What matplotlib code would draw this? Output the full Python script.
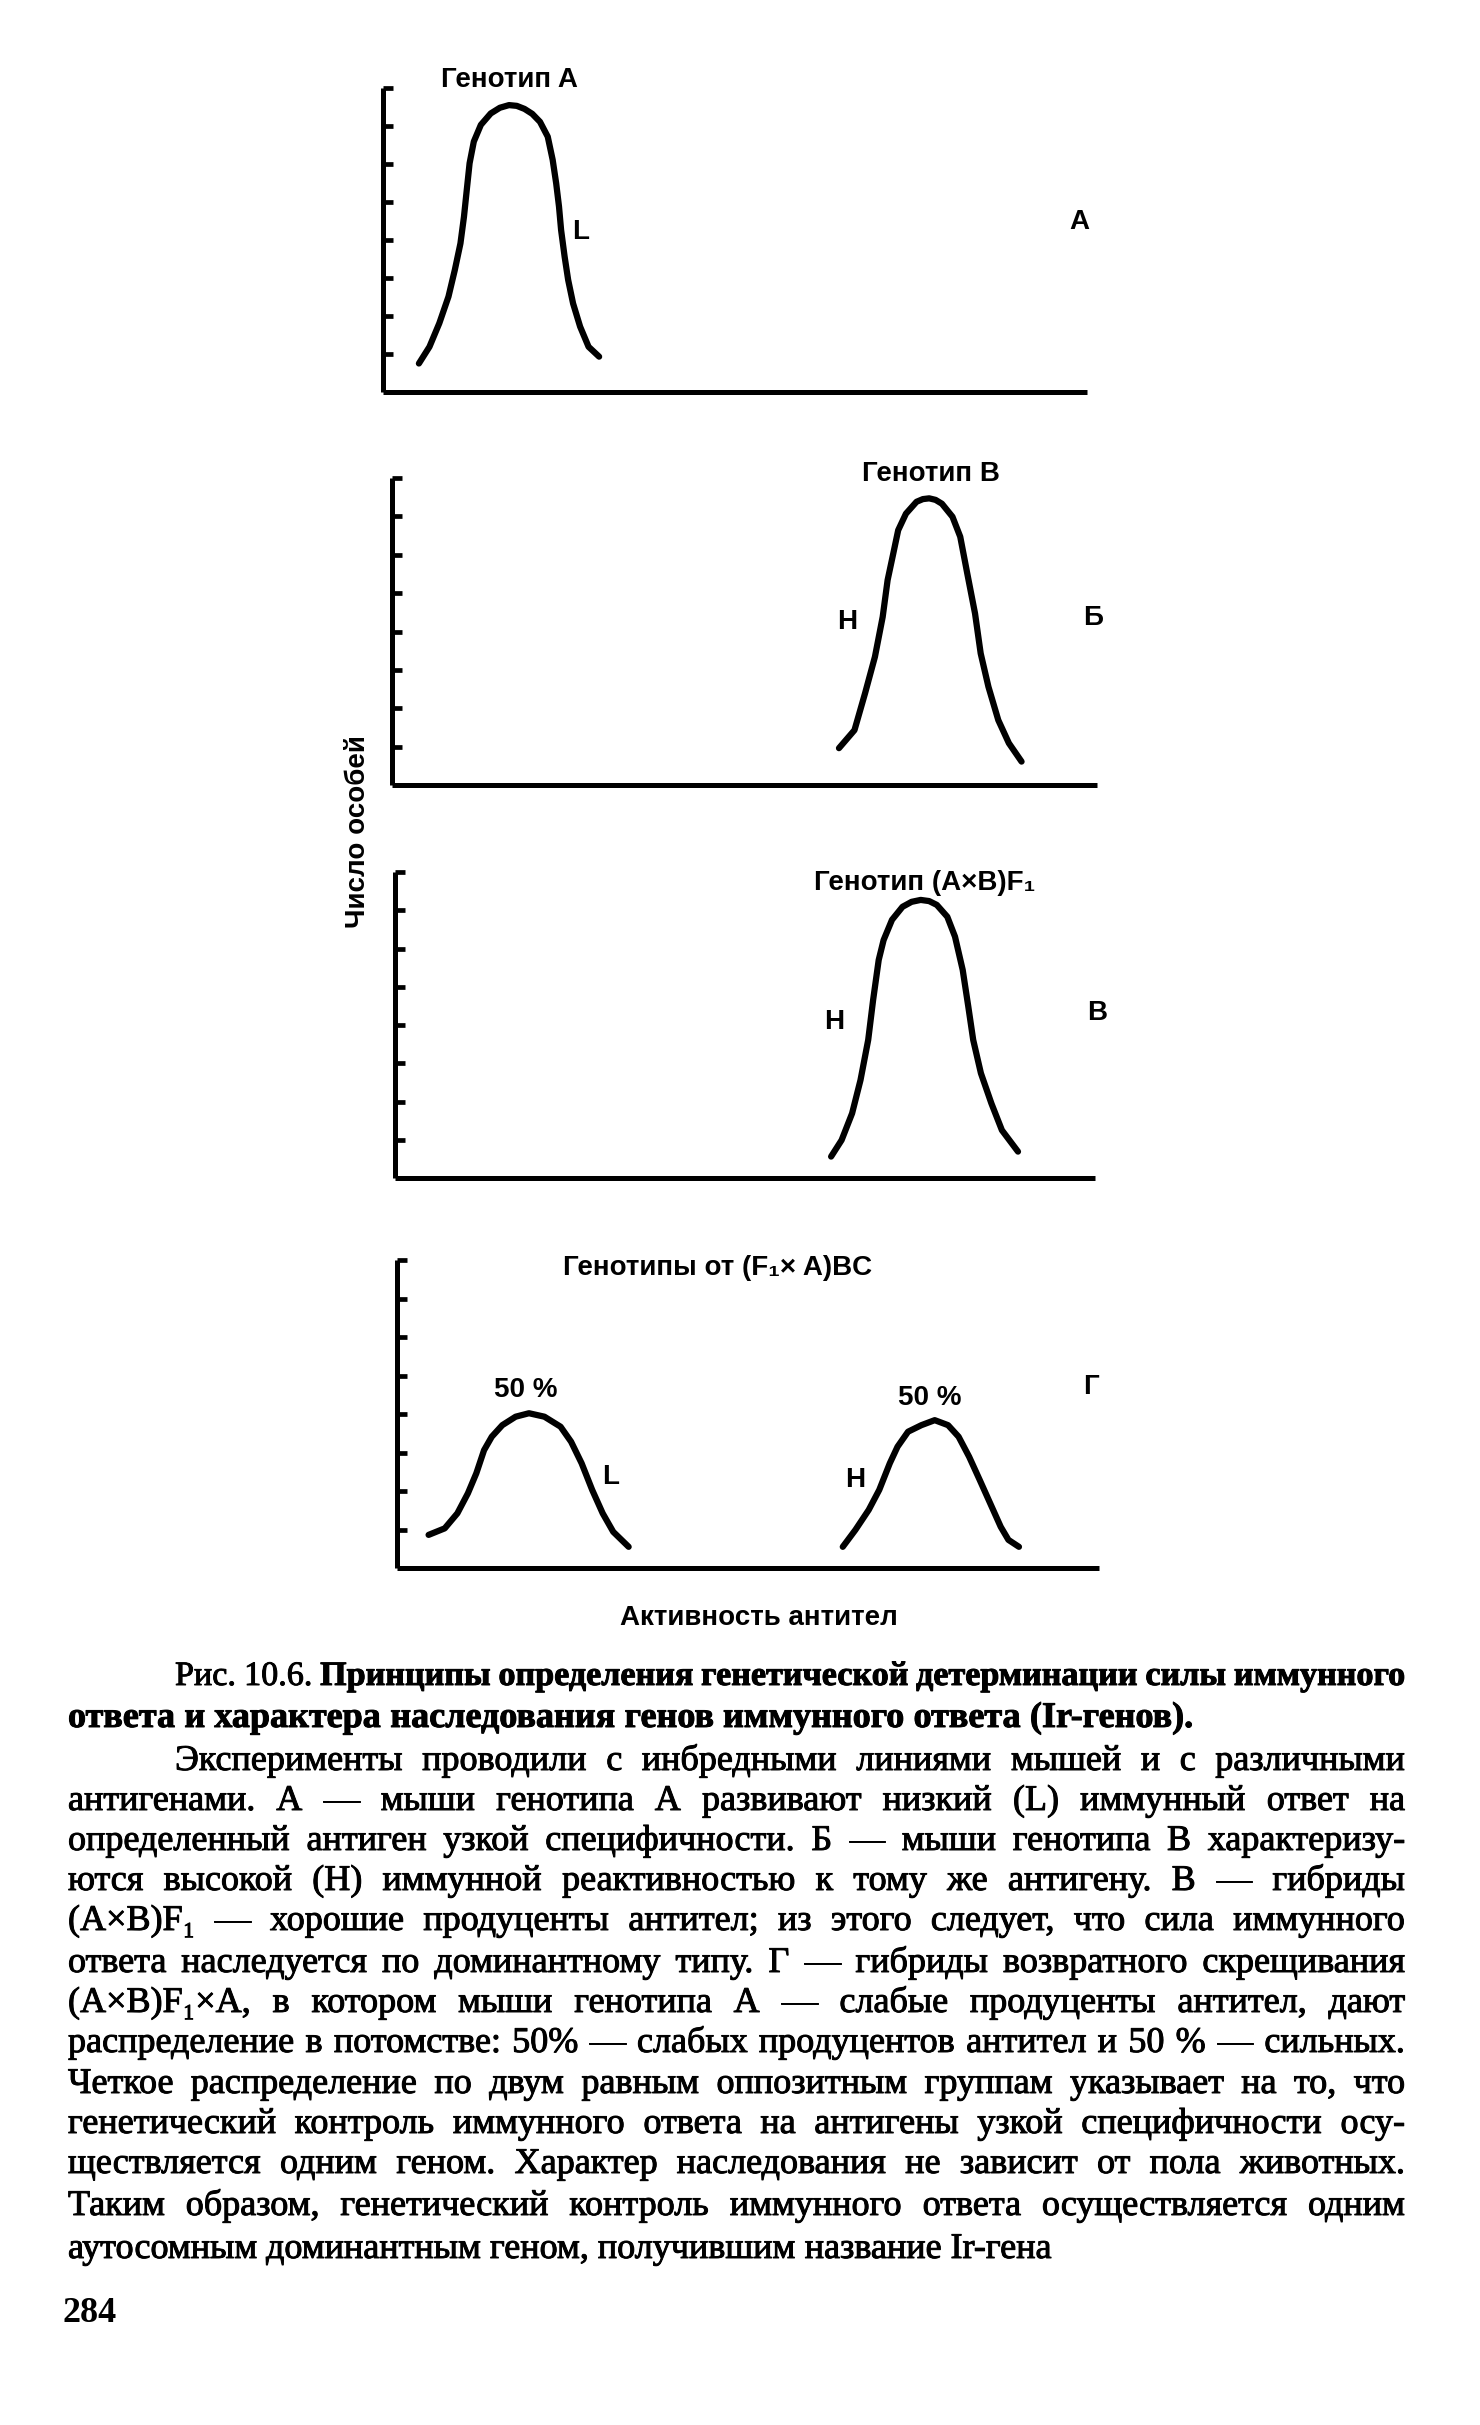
import matplotlib
matplotlib.use('Agg')
import matplotlib.pyplot as plt
import matplotlib.patheffects as pe

W, H = 1480, 2425

# Curves: x = antibody activity (0..100 along the axis), y = number of animals (0..8 ticks)
a_x = [5.1, 6.6, 8.0, 9.3, 10.2, 11.0, 11.5, 11.9, 12.3, 12.9, 13.9, 15.3, 16.6, 17.9, 19.0,
       20.1, 21.2, 22.3, 23.4, 24.1, 24.6, 25.0, 25.3, 25.8, 26.3, 27.0, 28.0, 29.2, 30.7]
a_y = [0.75, 1.19, 1.81, 2.51, 3.21, 3.91, 4.61, 5.32, 6.02, 6.59, 7.03, 7.33, 7.48, 7.55, 7.53,
       7.45, 7.32, 7.11, 6.72, 6.11, 5.49, 4.88, 4.26, 3.56, 2.95, 2.33, 1.72, 1.19, 0.93]

b_x = [63.4, 65.6, 67.1, 68.5, 69.6, 70.3, 71.1, 71.8, 72.9, 74.4, 75.3, 76.2,
       77.1, 78.0, 79.5, 80.6, 81.6, 82.7, 83.5, 84.6, 86.0, 87.5, 89.3]
b_y = [0.96, 1.43, 2.39, 3.34, 4.38, 5.34, 6.03, 6.64, 7.07, 7.38, 7.45, 7.47,
       7.43, 7.33, 6.99, 6.47, 5.51, 4.47, 3.43, 2.56, 1.69, 1.09, 0.61]

f1_x = [62.3, 63.8, 65.3, 66.5, 67.6, 68.3, 69.1, 69.8, 71.0, 72.5, 73.8, 75.1,
        76.3, 77.4, 78.9, 80.0, 81.1, 81.9, 82.6, 83.7, 85.2, 86.7, 89.0]
f1_y = [0.56, 0.99, 1.69, 2.56, 3.61, 4.65, 5.70, 6.22, 6.75, 7.09, 7.22, 7.27,
        7.24, 7.14, 6.83, 6.31, 5.44, 4.48, 3.61, 2.74, 1.95, 1.25, 0.69]

bc_low_x = [4.5, 6.8, 8.6, 10.1, 11.3, 12.4, 13.5, 15.0, 16.9, 18.8,
            21.0, 23.3, 24.8, 26.3, 27.8, 29.3, 30.8, 33.0]
bc_low_y = [0.86, 1.03, 1.42, 1.94, 2.46, 3.06, 3.41, 3.71, 3.93, 4.02,
            3.93, 3.67, 3.28, 2.72, 2.03, 1.42, 0.94, 0.55]

bc_high_x = [63.5, 65.3, 67.2, 68.7, 70.2, 71.3, 72.8, 74.7, 76.6,
             78.5, 80.0, 81.5, 83.0, 84.5, 86.0, 87.1, 88.6]
bc_high_y = [0.55, 0.99, 1.51, 2.03, 2.72, 3.15, 3.54, 3.71, 3.84,
             3.71, 3.41, 2.89, 2.29, 1.68, 1.07, 0.73, 0.55]

titles = ['Генотип A', 'Генотип B', 'Генотип (A×B)F₁', 'Генотипы от (F₁× A)BC']
panel_letters = ['A', 'Б', 'B', 'Г']

caption = [
    'Рис. 10.6. Принципы определения генетической детерминации силы иммунного',
    'ответа и характера наследования генов иммунного ответа (Ir-генов).',
]
body = [
    'Эксперименты проводили с инбредными линиями мышей и с различными',
    'антигенами. А — мыши генотипа А развивают низкий (L) иммунный ответ на',
    'определенный антиген узкой специфичности. Б — мыши генотипа В характеризу-',
    'ются высокой (Н) иммунной реактивностью к тому же антигену. В — гибриды',
    '(А×В)F₁ — хорошие продуценты антител; из этого следует, что сила иммунного',
    'ответа наследуется по доминантному типу. Г — гибриды возвратного скрещивания',
    '(А×В)F₁×А, в котором мыши генотипа А — слабые продуценты антител, дают',
    'распределение в потомстве: 50% — слабых продуцентов антител и 50 % — сильных.',
    'Четкое распределение по двум равным оппозитным группам указывает на то, что',
    'генетический контроль иммунного ответа на антигены узкой специфичности осу-',
    'ществляется одним геном. Характер наследования не зависит от пола животных.',
    'Таким образом, генетический контроль иммунного ответа осуществляется одним',
    'аутосомным доминантным геном, получившим название Ir-гена',
]
page_number = '284'

SANS = ['Liberation Sans', 'DejaVu Sans']
SERIF = ['Liberation Serif', 'DejaVu Serif']

fig = plt.figure(figsize=(W / 100, H / 100), dpi=100)
fig.patch.set_facecolor('white')


def make_axes(l, t, r, b):
    ax = fig.add_axes([l / W, 1 - b / H, (r - l) / W, (b - t) / H])
    ax.set_xlim(0, 100)
    ax.set_ylim(0, 8)
    for s in ['top', 'right']:
        ax.spines[s].set_visible(False)
    for s in ['left', 'bottom']:
        ax.spines[s].set_linewidth(3.6)
        ax.spines[s].set_capstyle('butt')
    ax.set_xticks([])
    ax.set_yticks(range(1, 9))
    ax.set_yticklabels([])
    ax.tick_params(axis='y', direction='in', length=7.5, width=3.4)
    ax.patch.set_alpha(0)
    return ax


def label(ax, x, y, s, size=20):
    ax.text(x, y, s, ha='center', va='center', fontsize=size,
            fontweight='bold', family=SANS, clip_on=False)


line_kw = dict(color='black', lw=4.5, solid_capstyle='round', solid_joinstyle='round', clip_on=False)

# panel A
ax1 = make_axes(383, 88, 1087, 392)
ax1.plot(a_x, a_y, **line_kw)
label(ax1, 18.0, 8.2, titles[0])
label(ax1, 28.1, 4.22, 'L')
label(ax1, 98.9, 4.47, panel_letters[0])

# panel Б
ax2 = make_axes(392, 478, 1097, 785)
ax2.plot(b_x, b_y, **line_kw)
label(ax2, 76.5, 8.1, titles[1])
label(ax2, 64.5, 4.24, 'H')
label(ax2, 99.5, 4.35, panel_letters[1])

# panel В
ax3 = make_axes(395, 872, 1095, 1178)
ax3.plot(f1_x, f1_y, **line_kw)
label(ax3, 75.6, 7.7, titles[2])
label(ax3, 62.7, 4.08, 'H')
label(ax3, 100.3, 4.31, panel_letters[2])

# panel Г
ax4 = make_axes(397, 1260, 1099, 1568)
ax4.plot(bc_low_x, bc_low_y, **line_kw)
ax4.plot(bc_high_x, bc_high_y, **line_kw)
label(ax4, 45.6, 7.8, titles[3])
label(ax4, 18.4, 4.62, '50 %')
label(ax4, 75.9, 4.41, '50 %')
label(ax4, 30.4, 2.36, 'L')
label(ax4, 65.3, 2.29, 'H')
label(ax4, 98.8, 4.7, panel_letters[3])

fig.text(759 / W, 1 - 1618 / H, 'Активность антител', ha='center', va='center',
         fontsize=20, fontweight='bold', family=SANS)
fig.text(358 / W, 1 - 832 / H, 'Число особей', ha='center', va='center', rotation=90,
         fontsize=20, fontweight='bold', family=SANS)

# text block below the figure (justified like the book page)
renderer = fig.canvas.get_renderer()
BODY_SIZE = 26
ink = [pe.withStroke(linewidth=0.7, foreground='black')]


def put_line(text, y, x0, x1, justify, bold_from=None, size=BODY_SIZE):
    words = text.split(' ')
    wts = ['bold' if (bold_from is not None and i >= bold_from) else 'normal'
           for i in range(len(words))]
    objs = [fig.text(0, 0, w, fontsize=size, fontweight=wt, family=SERIF,
                     va='baseline', ha='left', path_effects=ink)
            for w, wt in zip(words, wts)]
    widths = [o.get_window_extent(renderer).width for o in objs]
    space = size * 100 / 72 * 0.22
    if justify and len(words) > 1:
        need = sum(widths) + space * (len(words) - 1)
        if need > x1 - x0:
            for o in objs:
                o.remove()
            return put_line(text, y, x0, x1, justify, bold_from, size * (x1 - x0) / need)
        gap = (x1 - x0 - sum(widths)) / (len(words) - 1)
    else:
        gap = size * 100 / 72 * 0.25
    x = x0
    for o, wd in zip(objs, widths):
        o.set_position((x / W, 1 - y / H))
        x += wd + gap


LEFT, RIGHT, INDENT = 68, 1405, 175
cap_y = [1675, 1717]
put_line(caption[0], cap_y[0] + 10, INDENT, RIGHT, True, bold_from=2)
put_line(caption[1], cap_y[1] + 10, LEFT, RIGHT, False, bold_from=0)

body_y = [1760, 1800, 1840, 1880, 1920, 1962, 2002, 2042, 2083, 2123, 2163, 2205, 2248]
for i, (ln, yy) in enumerate(zip(body, body_y)):
    x0 = INDENT if i == 0 else LEFT
    put_line(ln, yy + 10, x0, RIGHT, i != len(body) - 1)

fig.text(62 / W, 1 - 2322 / H, page_number, fontsize=26, fontweight='bold',
         family=SERIF, va='baseline', ha='left')

fig.savefig('out.png', dpi=100, facecolor='white')
